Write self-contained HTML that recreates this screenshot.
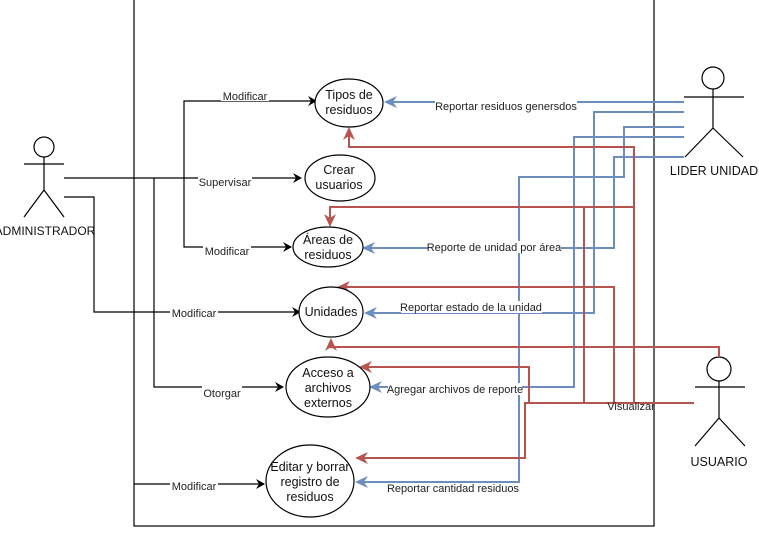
<!DOCTYPE html>
<html><head><meta charset="utf-8"><style>
html,body{margin:0;padding:0;background:#fff;}
svg{display:block;font-family:"Liberation Sans",sans-serif;}
.l{font-size:11px;fill:#222;}
.e{font-size:12.5px;fill:#111;}
</style></head><body>
<svg width="759" height="540" viewBox="0 0 759 540" xmlns="http://www.w3.org/2000/svg">
<defs>
<marker id="ak" markerWidth="10" markerHeight="10" refX="8" refY="5" orient="auto" markerUnits="userSpaceOnUse"><path d="M0,0 L9,5 L0,10 L3,5 Z" fill="#000"/></marker>
</defs>
<rect x="134" y="-2" width="520" height="528" fill="none" stroke="#000" stroke-width="1.2"/>

<g stroke="#000" stroke-width="1.2" fill="none">
<circle cx="44" cy="147" r="10"/>
<line x1="44" y1="157" x2="44" y2="190"/>
<line x1="24" y1="164" x2="64" y2="164"/>
<line x1="44" y1="190" x2="24" y2="217"/>
<line x1="44" y1="190" x2="64" y2="217"/>
<circle cx="713" cy="78" r="11"/>
<line x1="713" y1="89" x2="713" y2="128"/>
<line x1="684" y1="97" x2="744" y2="97"/>
<line x1="713" y1="128" x2="685" y2="157"/>
<line x1="713" y1="128" x2="743" y2="157"/>
<circle cx="719" cy="369" r="12"/>
<line x1="719" y1="381" x2="719" y2="418"/>
<line x1="695" y1="387" x2="745" y2="387"/>
<line x1="719" y1="418" x2="695" y2="446"/>
<line x1="719" y1="418" x2="745" y2="446"/>
</g>
<text x="45" y="235" text-anchor="middle" class="e" style="font-size:12px">ADMINISTRADOR</text>
<text x="714" y="175" text-anchor="middle" class="e">LIDER UNIDAD</text>
<text x="719" y="466" text-anchor="middle" class="e">USUARIO</text>

<g stroke="#000" stroke-width="1.2" fill="none">
<line x1="64" y1="178" x2="301" y2="178" marker-end="url(#ak)"/>
<polyline points="184,178 184,101 316,101" marker-end="url(#ak)"/>
<polyline points="184,178 184,247 291,247" marker-end="url(#ak)"/>
<polyline points="154,178 154,387 283,387" marker-end="url(#ak)"/>
<polyline points="64,197 94,197 94,312 300,312" marker-end="url(#ak)"/>
<line x1="134" y1="484" x2="264" y2="484" marker-end="url(#ak)"/>
</g>

<g stroke="#6c8ebf" stroke-width="2" fill="none">
<line x1="684" y1="102" x2="392" y2="102"/>
<polyline points="684,112 594,112 594,313 372,313"/>
<polyline points="684,127 624,127 624,177 519,177 519,482 363,482"/>
<polyline points="684,137 574,137 574,387 377,387"/>
<polyline points="684,157 614,157 614,248 370,248"/>
</g>
<g fill="#6c8ebf">
<polygon points="384,102 397,96 393,102 397,108"/>
<polygon points="364,313 377,307 373,313 377,319"/>
<polygon points="355,482 368,476 364,482 368,488"/>
<polygon points="369,387 382,381 378,387 382,393"/>
<polygon points="362,248 375,242 371,248 375,254"/>
</g>

<g stroke="#b85450" stroke-width="2" fill="none">
<polyline points="694,403 525,403 525,458 363,458"/>
<polyline points="634,403 634,147 349,147 349,135"/>
<polyline points="634,207 330,207 330,219"/>
<line x1="584" y1="403" x2="584" y2="207"/>
<polyline points="614,403 614,287 345,287"/>
<polyline points="529,403 529,367 367,367"/>
<polyline points="719,357 719,347 331,347 331,346"/>
</g>
<g fill="#b85450">
<polygon points="355,458 368,452 364,458 368,464"/>
<polygon points="349,127 343,140 349,136 355,140"/>
<polygon points="330,227 324,214 330,218 336,214"/>
<polygon points="337,287 350,281 346,287 350,293"/>
<polygon points="359,367 372,361 368,367 372,373"/>
<polygon points="331,338 325,351 331,347 337,351"/>
</g>

<g fill="#fff" stroke="#000" stroke-width="1.2">
<ellipse cx="349" cy="103" rx="34" ry="24"/>
<ellipse cx="340" cy="178" rx="35" ry="23"/>
<ellipse cx="328" cy="247" rx="35" ry="20"/>
<ellipse cx="331" cy="312" rx="32" ry="25"/>
<ellipse cx="328" cy="387" rx="42" ry="30"/>
<ellipse cx="310" cy="481" rx="44" ry="36"/>
</g>
<g class="e" text-anchor="middle">
<text x="349" y="99">Tipos de</text><text x="349" y="114">residuos</text>
<text x="339" y="174">Crear</text><text x="339" y="189">usuarios</text>
<text x="328" y="244">Áreas de</text><text x="328" y="259">residuos</text>
<text x="331" y="316">Unidades</text>
<text x="328" y="377">Acceso a</text><text x="328" y="392">archivos</text><text x="328" y="407">externos</text>
<text x="310" y="471">Editar y borrar</text><text x="310" y="486">registro de</text><text x="310" y="501">residuos</text>
</g>

<g class="l" text-anchor="middle">
<rect x="221" y="89" width="48" height="12" fill="#fff"/><text x="245" y="100">Modificar</text>
<rect x="198" y="176" width="54" height="12" fill="#fff"/><text x="225" y="186">Supervisar</text>
<rect x="203" y="245" width="48" height="12" fill="#fff"/><text x="227" y="255">Modificar</text>
<rect x="170" y="307" width="48" height="12" fill="#fff"/><text x="194" y="317">Modificar</text>
<rect x="202" y="386" width="40" height="12" fill="#fff"/><text x="222" y="397">Otorgar</text>
<rect x="170" y="480" width="48" height="12" fill="#fff"/><text x="194" y="490">Modificar</text>
<rect x="435" y="100" width="142" height="12" fill="#fff"/><text x="506" y="110">Reportar residuos genersdos</text>
<rect x="428" y="241" width="133" height="12" fill="#fff"/><text x="494" y="251">Reporte de unidad por área</text>
<rect x="401" y="301" width="141" height="12" fill="#fff"/><text x="471" y="311">Reportar estado de la unidad</text>
<rect x="388" y="383" width="134" height="12" fill="#fff"/><text x="455" y="393">Agregar archivos de reporte</text>
<rect x="388" y="483" width="131" height="12" fill="#fff"/><text x="453" y="492">Reportar cantidad residuos</text>
<text x="631" y="410">Visualizar</text>
</g>
</svg>
</body></html>
